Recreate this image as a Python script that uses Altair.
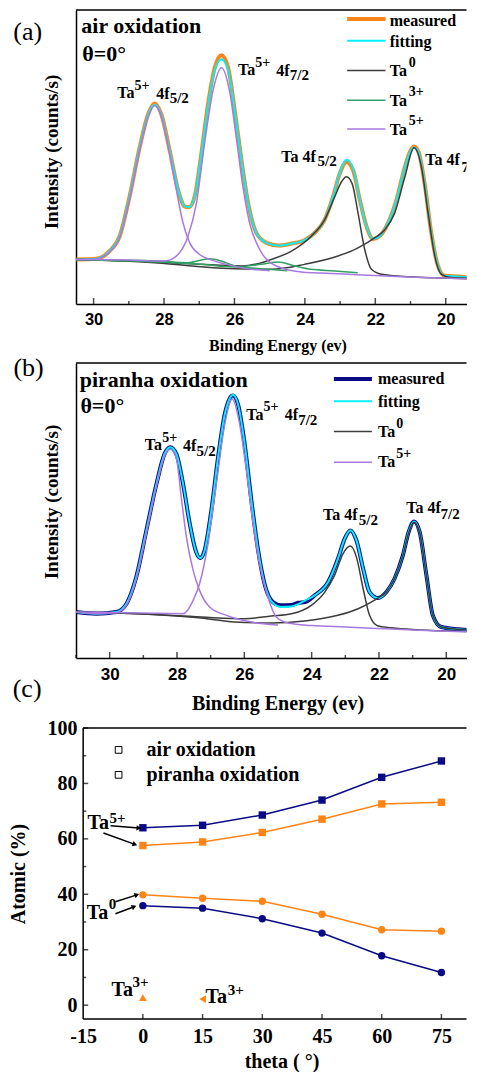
import altair as alt
import pandas as pd

SERIF = "Liberation Serif"
SANS = "Liberation Sans"
ORANGE = "#ff8418"
NAVY = "#0a0a85"
CYAN = "#00f0ff"
GRAY = "#3c3c3c"
GREEN = "#32a064"
PURPLE = "#a67ade"

# ---------------- panel (a): air oxidation, theta = 0 ----------------
a_meas_ev = [30.49, 29.92, 29.55, 29.26, 28.98, 28.69, 28.45, 28.27, 28.08, 27.84, 27.60, 27.41, 27.29,
             27.13, 26.94, 26.75, 26.56, 26.37, 26.18, 25.99, 25.80, 25.61, 25.38, 25.09, 24.76, 24.38,
             24.01, 23.72, 23.44, 23.20, 23.01, 22.82, 22.63, 22.44, 22.25, 22.06, 21.88, 21.64, 21.40,
             21.16, 21.02, 20.90, 20.77, 20.60, 20.41, 20.22, 20.03, 19.65, 19.08]
a_meas_i = [45, 45.7, 53.4, 68.4, 108.4, 158.4, 191.7, 202.4, 191.7, 155, 115, 98.4, 97.7,
            108.4, 151.7, 201.7, 238.4, 251, 238.4, 195, 145, 101.7, 71.7, 61.7, 59, 61,
            64.4, 71.7, 85, 108.4, 131.7, 143.4, 135, 105, 78.4, 65.7, 68.4, 81.7, 105,
            138.4, 153.4, 159, 153.4, 121.7, 71.7, 38.4, 28.4, 27.7, 25.7]
a_fit_i = [45, 45.7, 53.4, 68.4, 108.4, 158.4, 191.2, 201, 191.2, 155, 115, 98.4, 97.7,
           108.4, 151.7, 200.5, 236, 247, 236, 194, 145, 101.7, 71.7, 61.7, 59, 61,
           64.4, 71.7, 85, 108.4, 132.5, 145.5, 136.5, 105, 78.4, 65.7, 68.4, 81.7, 105,
           138.4, 153, 158, 153, 121.7, 71.7, 38.4, 28.4, 27.7, 25.7]
a_ta0a_ev = [30.49, 28.17, 26.94, 25.80, 25.30, 24.95, 24.38, 23.82, 23.44, 23.15, 22.96, 22.82, 22.66,
             22.49, 22.30, 22.11, 21.83, 21.00, 20.31, 19.07]
a_ta0a_i = [45, 42.5, 40, 38.4, 41, 45, 53.4, 68.4, 85, 108.4, 123.4, 128.4, 121.7,
            91.7, 55, 35, 30, 27.5, 26.4, 25]
a_ta0b_ev = [30.49, 28.17, 26.94, 25.99, 24.95, 24.01, 23.06, 22.49, 22.02, 21.73, 21.45, 21.16, 20.90,
             20.69, 20.50, 20.31, 20.12, 19.84, 19.08]
a_ta0b_i = [45, 41.5, 37.5, 35.5, 35, 40, 48.4, 56.7, 66.7, 75, 91.7, 128.4, 157.7,
            138.4, 91.7, 48.4, 30, 26.7, 25.7]
a_ta3a_ev = [30.49, 28.17, 27.32, 26.94, 26.70, 26.37, 25.99, 25.61, 25.05, 24.50]
a_ta3a_i = [45, 43.4, 41.7, 44.4, 45.7, 43.4, 38.4, 36.7, 35, 33.5]
a_ta3b_ev = [30.49, 28.17, 26.94, 25.99, 25.24, 24.76, 24.29, 23.82, 23.15, 22.50]
a_ta3b_i = [45, 42.4, 40, 37.4, 40, 42.4, 38.4, 35, 33.4, 31.5]
a_ta5l_ev = [30.49, 29.92, 29.55, 29.26, 28.98, 28.69, 28.45, 28.27, 28.08, 27.84, 27.65, 27.46, 27.27,
             26.99, 26.70, 26.23, 25.52, 25.00]
a_ta5l_i = [45, 45.5, 52.5, 67, 106, 156, 189, 200, 190, 151.7, 115, 81.7, 61.7,
            50, 45, 40, 35, 33.6]
a_ta5r_ev = [30.49, 29.00, 28.17, 27.93, 27.56, 27.32, 27.08, 26.85, 26.61, 26.37, 26.14, 25.95, 25.76,
             25.57, 25.28, 24.81, 24.10, 23.00, 22.20, 21.20, 20.31, 19.07]
a_ta5r_i = [45, 44.5, 43.4, 43.7, 51.7, 68.4, 101.7, 161.7, 215, 238.4, 215, 168.4, 118.4,
            81.7, 55, 38.4, 32.4, 30.5, 29, 27.5, 26.4, 25]
a_legend_names = ["measured", "fitting", "Ta", "Ta", "Ta"]
a_legend_sup = ["", "", "0", "3+", "5+"]
a_legend_y = [287.7, 265.7, 235.7, 205.7, 176.7]
a_legend_text_y = [285.7, 264.2, 235, 205, 175.7]
a_legend_colors = [ORANGE, CYAN, GRAY, GREEN, PURPLE]
a_legend_widths = [4, 2, 1.5, 1.5, 1.5]
a_text = ["air oxidation", "θ=0°", "Ta", "5+", "4f", "5/2", "Ta", "5+", "4f", "7/2",
          "Ta 4f", "5/2", "Ta 4f", "7/2"]
a_text_ev = [30.35, 30.32, 29.33, 28.84, 28.22, 27.84, 25.90, 25.41, 24.81, 24.43,
             24.67, 23.64, 20.58, 19.55]
a_text_i = [280.7, 252.2, 212.7, 219.7, 211.7, 207.4, 235.7, 243.7, 235.4, 230.9,
            148.7, 144.2, 145.7, 138.7]
a_text_size = [22, 22, 16, 14, 16, 15, 16, 14, 16, 15, 16, 15, 16, 15]

# ---------------- panel (b): piranha oxidation, theta = 0 ----------------
b_meas_ev = [30.99, 30.40, 29.80, 29.50, 29.21, 28.91, 28.61, 28.37, 28.20, 28.02, 27.82, 27.62, 27.43,
             27.31, 27.18, 26.98, 26.78, 26.58, 26.44, 26.34, 26.19, 25.99, 25.79, 25.59, 25.40, 25.15,
             24.90, 24.60, 24.40, 24.20, 23.91, 23.51, 23.22, 23.02, 22.85, 22.67, 22.47, 22.28, 22.03,
             21.78, 21.54, 21.29, 21.12, 20.96, 20.79, 20.59, 20.40, 20.15, 19.65, 19.06]
b_meas_i = [46, 44.3, 46, 54.3, 81, 127.7, 174.3, 204.3, 211, 204.3, 174.3, 134.3, 106,
            100, 107.7, 147.7, 201, 244.3, 259.3, 262.7, 254.3, 214.3, 157.7, 107.7, 74.3, 56,
            52.7, 53, 55.3, 56, 62.7, 76, 99.3, 119.3, 127.7, 117.7, 89.3, 66, 60,
            66, 79.3, 102.7, 126, 136.7, 126, 82.7, 42.7, 31, 28.7, 27.7]
b_fit_i = [46, 44.3, 46, 54.3, 81, 127.7, 174.3, 204.3, 211, 204.3, 174.3, 134.3, 106,
           100, 107.7, 147.7, 201, 244.3, 259.3, 263.5, 254.3, 214.3, 157.7, 107.7, 74.3, 55,
           51, 51.5, 54, 57.5, 62.7, 76, 99.3, 119.3, 128, 117.7, 89.3, 66, 60,
           66, 79.3, 102.7, 126, 136.7, 126, 82.7, 42.7, 31, 28.7, 27.7]
b_ta0a_ev = [30.99, 29.00, 27.28, 25.99, 25.20, 24.60, 24.01, 23.61, 23.32, 23.07, 22.85, 22.67, 22.47,
             22.28, 22.03, 21.63, 21.00, 20.00, 19.06]
b_ta0a_i = [46, 44, 41, 39.3, 42, 44.3, 52.7, 66, 82.7, 104.3, 112, 101, 69.3,
            42.7, 32, 30.3, 28.5, 27, 26.5]
b_ta0b_ev = [30.99, 29.00, 27.28, 26.29, 25.20, 24.21, 23.22, 22.62, 22.23, 22.03, 21.78, 21.54, 21.29,
             21.12, 20.96, 20.79, 20.59, 20.40, 20.15, 19.65, 19.06]
b_ta0b_i = [46, 44, 40, 36, 35, 37, 42.7, 49.3, 56, 60, 66, 79.3, 102.7,
            125, 136, 125.5, 82.7, 42.7, 31, 28.7, 27.7]
b_ta5l_ev = [30.99, 30.40, 29.80, 29.50, 29.21, 28.91, 28.61, 28.37, 28.20, 28.02, 27.87, 27.72, 27.52,
             27.33, 27.03, 26.53, 26.04, 25.44, 25.00]
b_ta5l_i = [46, 44.3, 45.5, 53, 79, 125, 172, 202, 209, 200, 160, 121, 87.7,
            67.7, 51, 42.7, 37.7, 34.3, 33]
b_ta5r_ev = [30.99, 29.00, 28.20, 27.82, 27.52, 27.33, 27.08, 26.83, 26.58, 26.36, 26.14, 25.94, 25.74,
             25.55, 25.30, 25.05, 24.70, 24.00, 23.00, 22.00, 21.00, 20.00, 19.06]
b_ta5r_i = [46, 45, 44.5, 44.3, 57.7, 74.3, 114.3, 174.3, 234.3, 259.3, 234.3, 187.7, 134.3,
            94.3, 61, 41, 35, 32.5, 31, 29.5, 28, 26.8, 26]
b_legend_names = ["measured", "fitting", "Ta", "Ta"]
b_legend_sup = ["", "", "0", "5+"]
b_legend_y = [279.3, 257, 226.7, 196]
b_legend_text_y = [279.3, 256, 226, 196]
b_legend_colors = [NAVY, CYAN, GRAY, PURPLE]
b_legend_widths = [4, 2, 1.5, 1.5]
b_text = ["piranha oxidation", "θ=0°", "Ta", "5+", "4f", "5/2", "Ta", "5+", "4f", "7/2",
          "Ta 4f", "5/2", "Ta 4f", "7/2"]
b_text_ev = [30.89, 30.87, 28.96, 28.44, 27.82, 27.42, 25.94, 25.43, 24.80, 24.40,
             23.66, 22.60, 21.19, 20.17]
b_text_i = [278.5, 252.7, 213.5, 220, 212.7, 207.7, 243.5, 251, 243.5, 238.5,
            143, 138, 149.7, 144]
b_text_size = [22, 22, 16, 14, 16, 15, 16, 14, 16, 15, 16, 15, 16, 15]

# ---------------- panel (c): atomic percentage vs theta ----------------
c_theta = [0, 15, 30, 45, 60, 75]
c_ta5_piranha = [64.0, 64.9, 68.6, 74.0, 82.2, 88.1]
c_ta5_air = [57.6, 58.9, 62.3, 67.1, 72.6, 73.2]
c_ta0_air = [39.8, 38.6, 37.5, 32.8, 27.2, 26.7]
c_ta0_piranha = [35.9, 35.0, 31.2, 26.0, 17.8, 11.8]
c_ta3_theta = [0, 15]
c_ta3_air = [2.7, 2.2]
c_ta3_shape = ["triangle-up", "triangle-left"]
c_legend_text = ["air oxidation", "piranha oxidation"]
c_legend_y = [92.1, 83.1]
c_text = ["Ta", "5+", "Ta", "0", "Ta", "3+", "Ta", "3+"]
c_text_theta = [-13.9, -8.4, -14.1, -8.6, -7.9, -2.6, 15.75, 21.3]
c_text_pct = [65.6, 67.7, 33.4, 36.6, 5.5, 8.4, 3.0, 5.5]
c_text_size = [20, 15, 20, 15, 20, 15, 20, 15]
c_arrow_x0 = [-8.1, -9.9, -6.9, -6.9]
c_arrow_y0 = [64.7, 62.1, 37.3, 33.0]
c_arrow_x1 = [-1.0, -2.0, -1.5, -2.2]
c_arrow_y1 = [63.9, 58.0, 39.8, 35.5]
c_arrow_angle = [4, 20, 341, 338]


def text_layer(xenc, yenc, xname, yname, xs, ys, texts, sizes, weight="bold", clip=False):
    df = pd.DataFrame({xname: xs, yname: ys, "t": texts, "s": sizes})
    return alt.Chart(df).mark_text(font=SERIF, fontWeight=weight, align="left", baseline="middle",
                                   color="black", clip=clip).encode(
        x=xenc, y=yenc, text="t:N", size=alt.Size("s:Q", scale=None))


def spectrum_panel(xenc, yenc, curves, leg, texts, letter, major, minor, width, height, xdom, ytop):
    layers = []
    for ev, val, color, w in curves:
        df = pd.DataFrame({"ev": ev, "I": val})
        layers.append(alt.Chart(df).mark_line(color=color, strokeWidth=w, interpolate="monotone",
                                              clip=True).encode(
            x=xenc, y=yenc, order=alt.Order("ev:Q", sort="descending")))
    names, sups, ly, lty, lc, lw, lx0, lx1, ltx, lsx = leg
    ldf = pd.DataFrame({"ev": [lx0] * len(ly), "ev2": [lx1] * len(ly), "I": ly,
                        "c": lc, "w": lw})
    layers.append(alt.Chart(ldf).mark_rule().encode(
        x=xenc, x2="ev2:Q", y=yenc, color=alt.Color("c:N", scale=None),
        strokeWidth=alt.StrokeWidth("w:Q", scale=None)))
    layers.append(text_layer(xenc, yenc, "ev", "I", [ltx] * len(names), lty, names, [16] * len(names)))
    sup_rows = [(s, y) for s, y in zip(sups, lty) if s]
    layers.append(text_layer(xenc, yenc, "ev", "I", [lsx] * len(sup_rows),
                             [y + 8.5 for _, y in sup_rows], [s for s, _ in sup_rows],
                             [14] * len(sup_rows)))
    tev, ti, tt, ts = texts
    layers.append(text_layer(xenc, yenc, "ev", "I", tev, ti, tt, ts, clip=True))
    layers.append(text_layer(xenc, yenc, "ev", "I", [letter[0]], [letter[1]], [letter[2]], [26],
                             weight="normal"))
    tdf = pd.DataFrame({"ev": major, "I": [0] * len(major)})
    layers.append(alt.Chart(tdf).mark_tick(orient="vertical", size=6, thickness=1.5, color="black",
                                           yOffset=-3).encode(x=xenc, y=yenc))
    mdf = pd.DataFrame({"ev": minor, "I": [0] * len(minor)})
    layers.append(alt.Chart(mdf).mark_tick(orient="vertical", size=3, thickness=1.5, color="black",
                                           yOffset=-1.5).encode(x=xenc, y=yenc))
    top = pd.DataFrame({"ev": [xdom[1]], "ev2": [xdom[0]], "I": [ytop]})
    layers.append(alt.Chart(top).mark_rule(color="black", strokeWidth=1.5).encode(
        x=xenc, x2="ev2:Q", y=yenc))
    return alt.layer(*layers).properties(width=width, height=height,
                                         view=alt.ViewBackground(stroke="transparent"))


def x_axis(size_lab, size_title, pad, tpad):
    return alt.Axis(values=[30, 28, 26, 24, 22, 20], format="d", ticks=False, tickSize=0, domain=True,
                    domainColor="black", domainWidth=1.5,
                    grid=False, labelFont=SANS, labelFontWeight="bold", labelFontSize=size_lab,
                    labelPadding=pad, labelFlush=False, labelOverlap=False, labelColor="black",
                    title="Binding Energy (ev)", titleFont=SERIF, titleFontWeight="bold",
                    titleFontSize=size_title, titlePadding=tpad, titleColor="black", titleX=201.5)


def y_axis(ty):
    return alt.Axis(labels=False, ticks=False, tickSize=0, domain=True, domainColor="black", domainWidth=1.5,
                    grid=False, title="Intensity (counts/s)", titleFont=SERIF, titleFontWeight="bold",
                    titleFontSize=19, titleColor="black", titleX=-14.5, titleY=ty)


# panel (a)
a_dom = [19.41, 30.5]
ax_x = alt.X("ev:Q", scale=alt.Scale(domain=a_dom, reverse=True, nice=False, zero=False),
             axis=x_axis(16.5, 16, 7, 10))
ax_y = alt.Y("I:Q", scale=alt.Scale(domain=[0, 296.7], nice=False, zero=False), axis=y_axis(141.5))
pa = spectrum_panel(
    ax_x, ax_y,
    [(a_meas_ev, a_meas_i, ORANGE, 4), (a_meas_ev, a_fit_i, CYAN, 2),
     (a_ta0a_ev, a_ta0a_i, GRAY, 1.5), (a_ta0b_ev, a_ta0b_i, GRAY, 1.5),
     (a_ta3a_ev, a_ta3a_i, GREEN, 1.5), (a_ta3b_ev, a_ta3b_i, GREEN, 1.5),
     (a_ta5l_ev, a_ta5l_i, PURPLE, 1.5), (a_ta5r_ev, a_ta5r_i, PURPLE, 1.5)],
    (a_legend_names, a_legend_sup, a_legend_y, a_legend_text_y, a_legend_colors, a_legend_widths,
     22.80, 21.71, 21.59, 21.05),
    (a_text_ev, a_text_i, a_text, a_text_size),
    (32.28, 275, "(a)"),
    [30, 28, 26, 24, 22, 20], [29, 27, 25, 23, 21], 390.5, 294, a_dom, 296.7)

# panel (b)
b_dom = [19.40, 31]
bx_x = alt.X("ev:Q", scale=alt.Scale(domain=b_dom, reverse=True, nice=False, zero=False),
             axis=x_axis(17, 20, 8, 11))
bx_y = alt.Y("I:Q", scale=alt.Scale(domain=[0, 295.3], nice=False, zero=False), axis=y_axis(138.5))
pb = spectrum_panel(
    bx_x, bx_y,
    [(b_meas_ev, b_meas_i, NAVY, 4), (b_meas_ev, b_fit_i, CYAN, 2),
     (b_ta0a_ev, b_ta0a_i, GRAY, 1.5), (b_ta0b_ev, b_ta0b_i, GRAY, 1.5),
     (b_ta5l_ev, b_ta5l_i, PURPLE, 1.5), (b_ta5r_ev, b_ta5r_i, PURPLE, 1.5)],
    (b_legend_names, b_legend_sup, b_legend_y, b_legend_text_y, b_legend_colors, b_legend_widths,
     23.34, 22.21, 22.03, 21.49),
    (b_text_ev, b_text_i, b_text, b_text_size),
    (32.86, 290, "(b)"),
    [30, 28, 26, 24, 22, 20], [31, 29, 27, 25, 23, 21], 390.5, 295, b_dom, 295.3)

# panel (c): plot area starts 11 px above the drawn frame (frame drawn with rules at 100)
c_right = 81.3
c_xscale = alt.Scale(domain=[-16.8, c_right], nice=False, zero=False)
c_yscale = alt.Scale(domain=[-5, 103.97], nice=False, zero=False)
cx = alt.X("theta:Q", scale=c_xscale,
           axis=alt.Axis(values=[-15, 0, 15, 30, 45, 60, 75], labelExpr="'' + datum.value", ticks=False,
                         tickSize=0, domain=False, grid=False, labelFont=SERIF, labelFontWeight="bold",
                         labelFontSize=20, labelPadding=7, labelFlush=False, labelOverlap=False,
                         labelColor="black", title="theta ( °)", titleFont=SERIF, titleFontWeight="bold",
                         titleFontSize=20, titlePadding=5, titleColor="black", titleX=205.5))
cy = alt.Y("pct:Q", scale=c_yscale,
           axis=alt.Axis(values=[0, 20, 40, 60, 80, 100], format="d", ticks=False, tickSize=0, domain=False,
                         grid=False, offset=-7.1, labelFont=SERIF, labelFontWeight="bold", labelFontSize=20,
                         labelPadding=6, labelFlush=False, labelOverlap=False, labelColor="black",
                         title="Atomic (%)", titleFont=SERIF, titleFontWeight="bold", titleFontSize=20,
                         titleColor="black", titleX=-54.6, titleY=156.5))

c_layers = []
frame_h = pd.DataFrame({"theta": [-15, -15], "theta2": [c_right, c_right], "pct": [-5, 100]})
c_layers.append(alt.Chart(frame_h).mark_rule(color="black", strokeWidth=1.5).encode(
    x=cx, x2="theta2:Q", y=cy))
frame_v = pd.DataFrame({"theta": [-15], "pct": [-5], "pct2": [100]})
c_layers.append(alt.Chart(frame_v).mark_rule(color="black", strokeWidth=1.5).encode(
    x=cx, y=cy, y2="pct2:Q"))
for vals, color, shape in [(c_ta5_piranha, NAVY, "square"), (c_ta5_air, ORANGE, "square"),
                           (c_ta0_air, ORANGE, "circle"), (c_ta0_piranha, NAVY, "circle")]:
    df = pd.DataFrame({"theta": c_theta, "pct": vals})
    base = alt.Chart(df).encode(x=cx, y=cy)
    c_layers.append(base.mark_line(color=color, strokeWidth=1.5))
    c_layers.append(base.mark_point(shape=shape, filled=True, color=color, size=55, opacity=1))
t3 = pd.DataFrame({"theta": c_ta3_theta, "pct": c_ta3_air, "shp": c_ta3_shape})
c_layers.append(alt.Chart(t3).mark_point(filled=True, color=ORANGE, size=60, opacity=1).encode(
    x=cx, y=cy, shape=alt.Shape("shp:N", scale=None)))
lg = pd.DataFrame({"theta": [-6.1, -6.1], "pct": c_legend_y})
c_layers.append(alt.Chart(lg).mark_point(shape="square", filled=False, color="black", size=45,
                                         strokeWidth=1, opacity=1).encode(x=cx, y=cy))
c_layers.append(text_layer(cx, cy, "theta", "pct", [0.93, 0.93], c_legend_y, c_legend_text, [20, 20]))
c_layers.append(text_layer(cx, cy, "theta", "pct", c_text_theta, c_text_pct, c_text, c_text_size))
c_layers.append(text_layer(cx, cy, "theta", "pct", [-32.7], [113.9], ["(c)"], [26], weight="normal"))
arr = pd.DataFrame({"theta": c_arrow_x0, "pct": c_arrow_y0, "theta2": c_arrow_x1, "pct2": c_arrow_y1})
c_layers.append(alt.Chart(arr).mark_rule(color="black", strokeWidth=1.5).encode(
    x=cx, y=cy, x2="theta2:Q", y2="pct2:Q"))
head = pd.DataFrame({"theta": c_arrow_x1, "pct": c_arrow_y1, "ang": c_arrow_angle})
c_layers.append(alt.Chart(head).mark_point(shape="triangle-right", filled=True, color="black", size=30,
                                           opacity=1).encode(
    x=cx, y=cy, angle=alt.Angle("ang:Q", scale=None)))
xt = pd.DataFrame({"theta": [0, 15, 30, 45, 60, 75], "pct": [-5] * 6})
c_layers.append(alt.Chart(xt).mark_tick(orient="vertical", size=5, thickness=1.5, color="black",
                                        yOffset=-2.5).encode(x=cx, y=cy))
yt = pd.DataFrame({"theta": [-15] * 6, "pct": [0, 20, 40, 60, 80, 100]})
c_layers.append(alt.Chart(yt).mark_tick(orient="horizontal", size=5, thickness=1.5, color="black",
                                        xOffset=2.5).encode(x=cx, y=cy))
ytm = pd.DataFrame({"theta": [-15] * 5, "pct": [10, 30, 50, 70, 90]})
c_layers.append(alt.Chart(ytm).mark_tick(orient="horizontal", size=3, thickness=1.5, color="black",
                                         xOffset=1.5).encode(x=cx, y=cy))
pc = alt.layer(*c_layers).properties(width=390.5, height=302,
                                     view=alt.ViewBackground(stroke="transparent"))

chart = alt.vconcat(pa, pb, pc, spacing=59, bounds="flush").properties(
    padding=0, background="white").configure_view(stroke="transparent")

chart.save("out.html", embed_options={"renderer": "svg", "actions": False})
